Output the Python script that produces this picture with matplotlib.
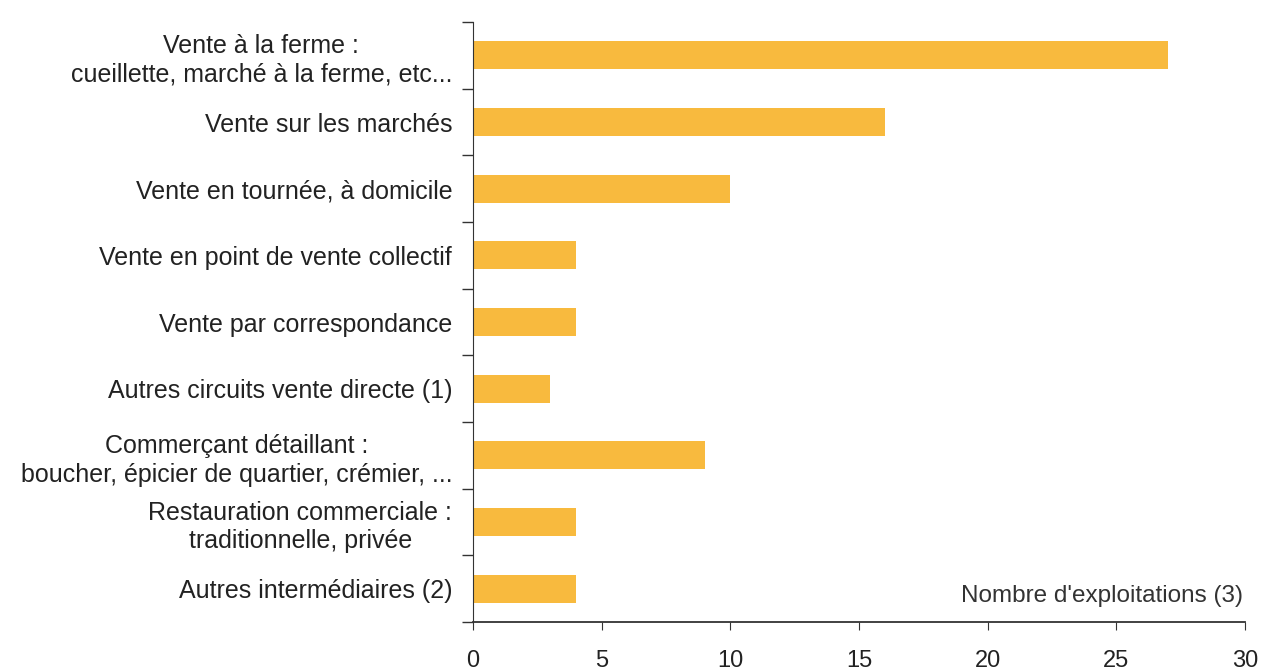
import matplotlib.pyplot as plt
import numpy as np

plt.rcParams['font.family'] = ['Liberation Sans', 'DejaVu Sans']

categories = [
    "Vente à la ferme :\ncueillette, marché à la ferme, etc...",
    "Vente sur les marchés",
    "Vente en tournée, à domicile",
    "Vente en point de vente collectif",
    "Vente par correspondance",
    "Autres circuits vente directe (1)",
    "Commerçant détaillant :\nboucher, épicier de quartier, crémier, ...",
    "Restauration commerciale :\ntraditionnelle, privée",
    "Autres intermédiaires (2)",
]
values = [27, 16, 10, 4, 4, 3, 9, 4, 4]
xticks = [0, 5, 10, 15, 20, 25, 30]

fig = plt.figure(figsize=(12.66, 6.71), dpi=100)
ax = fig.add_axes([0.3736, 0.073, 0.6098, 0.894])

y = np.arange(len(categories))
ax.barh(y, values, height=0.42, color='#F8BA3E')

ax.set_ylim(len(categories) - 0.5, -0.5)
ax.set_xlim(0, 30)
ax.set_yticks(y)
ax.set_yticklabels(categories, fontsize=18, multialignment='center',
                   color='#222222', linespacing=1.25)
ax.set_yticks(np.arange(len(categories) + 1) - 0.5, minor=True)
ax.tick_params(axis='y', which='major', length=0, pad=15)
ax.tick_params(axis='y', which='minor', length=8, width=1, direction='out', color='#333333')
ax.set_xticks(xticks)
ax.tick_params(axis='x', labelsize=17, length=6, pad=14, color='#333333', labelcolor='#222222')

for s in ['top', 'right']:
    ax.spines[s].set_visible(False)
ax.spines['left'].set_color('#333333')
ax.spines['bottom'].set_color('#333333')
ax.spines['bottom'].set_linewidth(1.3)

ax.text(0.997, 0.025, "Nombre d'exploitations (3)", transform=ax.transAxes,
        ha='right', va='bottom', fontsize=17.5, color='#333333')

fig.savefig('out.png', dpi=100)
